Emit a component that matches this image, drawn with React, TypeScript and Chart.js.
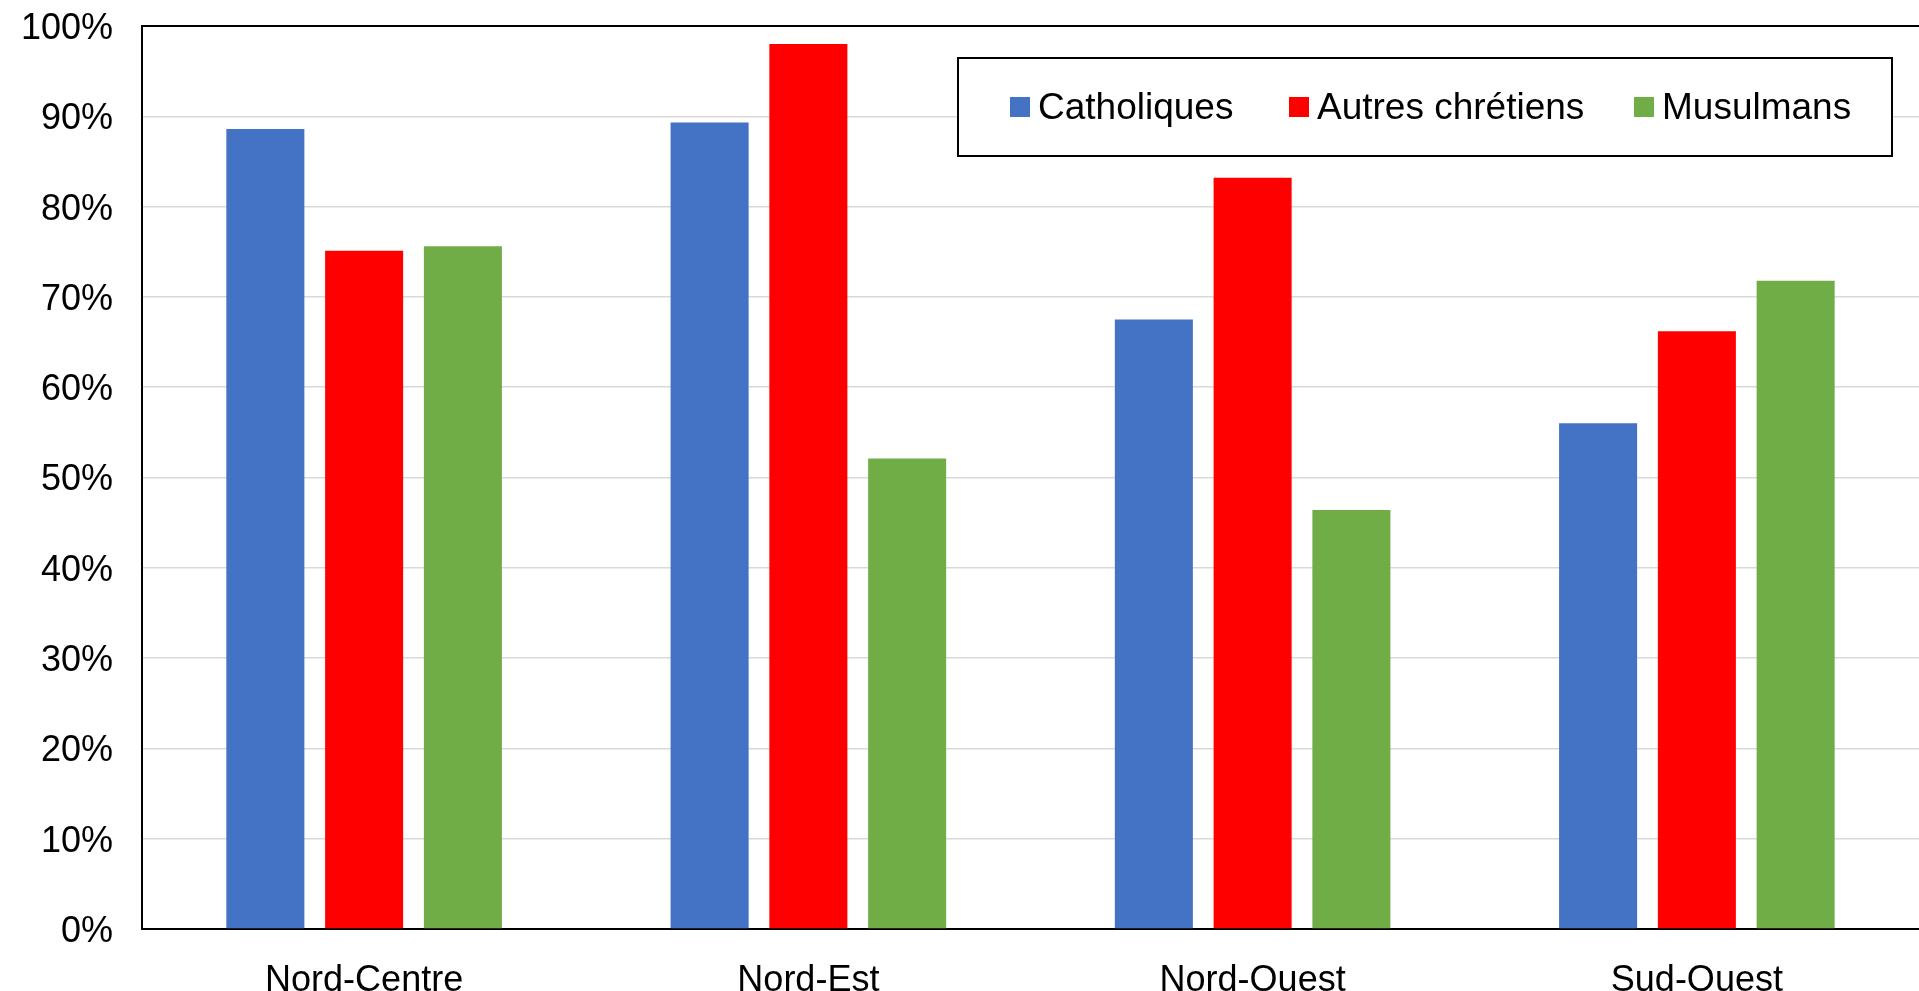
import React, { useEffect, useRef } from "react";
import { Chart, registerables } from "chart.js";

Chart.register(...registerables);

const categories = ["Nord-Centre", "Nord-Est", "Nord-Ouest", "Sud-Ouest"];
const seriesNames = ["Catholiques", "Autres chrétiens", "Musulmans"];
const catholiques = [88.6, 89.3, 67.5, 56.0];
const autresChretiens = [75.1, 98.0, 83.2, 66.2];
const musulmans = [75.6, 52.1, 46.4, 71.8];
const seriesColors = ["#4472C4", "#FF0000", "#70AD47"];
const yTicks = [0, 10, 20, 30, 40, 50, 60, 70, 80, 90, 100];

const FONT = '"Liberation Sans", Arial, sans-serif';

const boxedLegend = {
  id: "boxedLegend",
  afterDraw(chart: any) {
    const ctx = chart.ctx;
    const bx = 958, by = 58, bw = 934, bh = 98;
    ctx.save();
    ctx.fillStyle = "#ffffff";
    ctx.fillRect(bx, by, bw, bh);
    ctx.strokeStyle = "#000000";
    ctx.lineWidth = 2;
    ctx.strokeRect(bx, by, bw, bh);
    const markerX = [1010, 1289, 1634];
    ctx.font = `37px ${FONT}`;
    ctx.textBaseline = "alphabetic";
    ctx.textAlign = "left";
    chart.data.datasets.forEach((ds: any, i: number) => {
      const x = markerX[i];
      ctx.fillStyle = ds.backgroundColor;
      ctx.fillRect(x, 97, 20, 20);
      ctx.fillStyle = "#000000";
      ctx.fillText(ds.label, x + 28, 119);
    });
    ctx.restore();
  },
};

export default function App() {
  const ref = useRef<HTMLCanvasElement | null>(null);
  useEffect(() => {
    if (!ref.current) return;
    const data = [catholiques, autresChretiens, musulmans];
    const chart = new Chart(ref.current, {
      type: "bar",
      data: {
        labels: categories,
        datasets: seriesNames.map((name, i) => ({
          label: name,
          data: data[i],
          backgroundColor: seriesColors[i],
          borderWidth: 0,
          categoryPercentage: 0.667,
          barPercentage: 0.79,
        })),
      },
      options: {
        animation: false,
        responsive: false,
        devicePixelRatio: 1,
        layout: { padding: { top: 26, left: 0, right: 0, bottom: 0 } },
        plugins: {
          legend: { display: false },
          tooltip: { enabled: false },
        },
        scales: {
          x: {
            grid: { display: false },
            border: { display: true, color: "#000000", width: 2 },
            ticks: {
              color: "#000000",
              font: { family: FONT, size: 36 },
              padding: 22,
              maxRotation: 0,
            },
            afterFit(scale: any) {
              scale.height = 62;
              scale.paddingLeft = 0;
              scale.paddingRight = 0;
            },
          },
          y: {
            min: 0,
            max: 100,
            afterBuildTicks(scale: any) {
              scale.ticks = yTicks.map((v) => ({ value: v }));
            },
            grid: {
              drawTicks: false,
              color: (c: any) => (c.tick && c.tick.value === 100 ? "#000000" : "#d9d9d9"),
              lineWidth: (c: any) => (c.tick && c.tick.value === 100 ? 2 : 1.5),
            },
            border: { display: true, color: "#000000", width: 2 },
            ticks: {
              color: "#000000",
              font: { family: FONT, size: 36 },
              padding: 29,
              labelOffset: 3,
              callback: (v: any) => `${v}%`,
            },
            afterFit(scale: any) {
              scale.width = 142;
              scale.paddingTop = 0;
              scale.paddingBottom = 0;
            },
          },
        },
      },
      plugins: [boxedLegend],
    });
    return () => chart.destroy();
  }, []);
  return (
    <div style={{ position: "fixed", left: 0, top: 0, width: 1919, height: 991, background: "#fff" }}>
      <canvas ref={ref} width={1919} height={991} style={{ display: "block", width: 1919, height: 991 }} />
    </div>
  );
}
